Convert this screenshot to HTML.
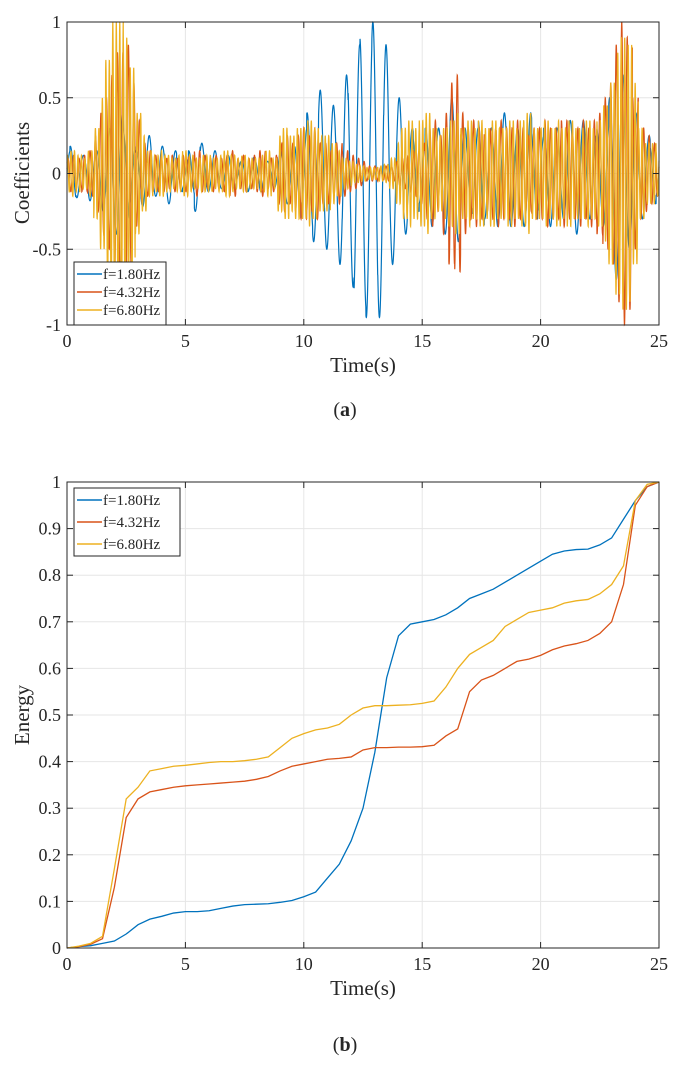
<!DOCTYPE html>
<html><head><meta charset="utf-8"><style>
body{margin:0;background:#fff}
svg{display:block}
text{font-family:"Liberation Serif",serif;fill:#262626}
</style></head><body>
<svg id="fig" width="689" height="1068" viewBox="0 0 689 1068" xmlns="http://www.w3.org/2000/svg">
<g id="top"></g>
<g id="bot"></g>
<text x="345" y="416" text-anchor="middle" font-size="20">(<tspan font-weight="bold">a</tspan>)</text>
<text x="345" y="1051" text-anchor="middle" font-size="20">(<tspan font-weight="bold">b</tspan>)</text>
</svg>
<script>
const seriesNames=["f=1.80Hz","f=4.32Hz","f=6.80Hz"];
const seriesFreq=[1.8,4.32,6.8];
const colors=["#0072BD","#D95319","#EDB120"];
const xTicks=[0,5,10,15,20,25];
const topYTicks=[-1,-0.5,0,0.5,1];
const topYLabels=["-1","-0.5","0","0.5","1"];
const botYTicks=[0,0.1,0.2,0.3,0.4,0.5,0.6,0.7,0.8,0.9,1];
const botYLabels=["0","0.1","0.2","0.3","0.4","0.5","0.6","0.7","0.8","0.9","1"];
// envelope amplitudes, step 0.25 s
const ampBlue=[.15,.18,.16,.12,.18,.15,.25,.3,.4,.42,.3,.2,.15,.22,.25,.15,.18,.2,.15,.12,.1,.15,.25,.2,.12,.15,.1,.12,.1,.08,.1,.12,.1,.12,.08,.1,.15,.2,.15,.2,.3,.4,.45,.55,.5,.45,.6,.65,.75,.85,.9,.95,1.0,.95,.85,.6,.5,.4,.3,.25,.2,.3,.35,.3,.4,.5,.45,.3,.25,.3,.35,.3,.3,.35,.4,.35,.3,.35,.4,.3,.25,.3,.35,.3,.3,.35,.4,.35,.3,.25,.3,.35,.5,.7,.65,.5,.4,.3,.25,.2,.15];
const ampOrange=[.1,.12,.1,.12,.15,.25,.4,.5,.65,.8,.85,.6,.35,.2,.15,.12,.12,.1,.12,.1,.12,.1,.15,.12,.1,.12,.1,.12,.15,.1,.12,.1,.12,.15,.1,.12,.2,.25,.2,.25,.3,.25,.3,.2,.2,.15,.2,.15,.12,.1,.08,.05,.05,.04,.05,.05,.08,.1,.12,.15,.2,.3,.35,.25,.4,.6,.65,.4,.3,.35,.3,.25,.3,.35,.3,.3,.35,.3,.25,.3,.3,.35,.3,.3,.35,.3,.3,.35,.3,.35,.4,.5,.6,.85,1.0,.9,.5,.3,.25,.2,.15];
const ampYellow=[.12,.15,.12,.1,.15,.3,.5,.75,1.0,1.0,.9,.7,.4,.25,.15,.12,.15,.12,.1,.12,.15,.12,.1,.12,.12,.1,.12,.15,.12,.1,.12,.1,.1,.12,.15,.1,.25,.3,.25,.3,.3,.35,.3,.25,.25,.2,.15,.1,.08,.06,.05,.04,.04,.05,.06,.1,.2,.3,.35,.3,.35,.4,.3,.25,.3,.35,.4,.3,.35,.3,.35,.3,.35,.3,.3,.35,.3,.35,.4,.3,.3,.35,.3,.35,.3,.35,.3,.3,.35,.3,.35,.45,.6,.8,.9,.85,.6,.3,.2,.2,.15];
// energy, step 0.5 s
const energyBlue=[0,.003,.005,.01,.015,.03,.05,.062,.068,.075,.078,.078,.08,.085,.09,.093,.094,.095,.098,.102,.11,.12,.15,.18,.23,.3,.42,.58,.67,.695,.70,.705,.715,.73,.75,.76,.77,.785,.80,.815,.83,.845,.852,.855,.856,.865,.88,.92,.96,.99,1];
const energyOrange=[0,.003,.008,.02,.13,.28,.32,.335,.34,.345,.348,.35,.352,.354,.356,.358,.362,.368,.38,.39,.395,.40,.405,.407,.41,.425,.43,.43,.431,.431,.432,.435,.455,.47,.55,.575,.585,.60,.615,.62,.628,.64,.648,.653,.66,.675,.70,.78,.95,.99,1];
const energyYellow=[0,.004,.01,.025,.17,.32,.345,.38,.385,.39,.392,.395,.398,.40,.40,.402,.405,.41,.43,.45,.46,.468,.472,.48,.50,.515,.52,.52,.521,.522,.525,.53,.56,.60,.63,.645,.66,.69,.705,.72,.725,.73,.74,.745,.748,.76,.78,.82,.96,.995,1];

const NS="http://www.w3.org/2000/svg";
function mk(tag,attrs,parent){const e=document.createElementNS(NS,tag);for(const k in attrs)e.setAttribute(k,attrs[k]);parent.appendChild(e);return e;}
const X0=67,X1=659;
const xs=t=>X0+(t/25)*(X1-X0);

function axes(g,top,bottom,yMin,yMax,yTicks,yLabels,ylab,legendBox){
  const ys=v=>bottom-(v-yMin)/(yMax-yMin)*(bottom-top);
  xTicks.forEach(t=>{
    const l=mk('line',{x1:xs(t),x2:xs(t),y1:top,y2:bottom,stroke:'#e6e6e6','stroke-width':1},g);
    
    
  });
  yTicks.forEach(v=>{
    const l=mk('line',{x1:X0,x2:X1,y1:ys(v),y2:ys(v),stroke:'#e6e6e6','stroke-width':1},g);
    
    
  });
  return ys;
}
function frame(g,top,bottom,yTicks,yLabels,ys,ylab,ylabY){
  const r=mk('rect',{x:X0,y:top,width:X1-X0,height:bottom-top,fill:'none',stroke:'#262626','stroke-width':1},g);
  
  
  xTicks.forEach(t=>{
    mk('line',{x1:xs(t),x2:xs(t),y1:bottom,y2:bottom-6,stroke:'#262626'},g);
    mk('line',{x1:xs(t),x2:xs(t),y1:top,y2:top+6,stroke:'#262626'},g);
    const tx=mk('text',{x:xs(t),y:bottom+22,'text-anchor':'middle','font-size':18},g);
    tx.textContent=t;
    
    
  });
  yTicks.forEach((v,i)=>{
    mk('line',{x1:X0,x2:X0+6,y1:ys(v),y2:ys(v),stroke:'#262626'},g);
    mk('line',{x1:X1,x2:X1-6,y1:ys(v),y2:ys(v),stroke:'#262626'},g);
    const tx=mk('text',{x:X0-6,y:ys(v)+6,'text-anchor':'end','font-size':18},g);
    tx.textContent=yLabels[i];
    
    
  });
  const xl=mk('text',{x:(X0+X1)/2,y:bottom+47,'text-anchor':'middle','font-size':21},g);
  xl.textContent='Time(s)';
  
  
  const yl=mk('text',{x:0,y:0,'text-anchor':'middle','font-size':21,transform:`translate(29,${ylabY}) rotate(-90)`},g);
  yl.textContent=ylab;
  
  
}
function legend(g,x,y,w,h,rowY){
  const r=mk('rect',{x:x,y:y,width:w,height:h,fill:'#fff',stroke:'#262626','stroke-width':1},g);
  
  
  seriesNames.forEach((n,i)=>{
    const yy=y+rowY[i];
    const l=mk('line',{x1:x+3,x2:x+28,y1:yy,y2:yy,stroke:colors[i],'stroke-width':1.5},g);
    
    
    const t=mk('text',{x:x+29,y:yy+5,'font-size':15},g);
    t.textContent=n;
    
    
  });
}

// TOP chart
(function(){
  const g=document.getElementById('top');
  const top=22,bottom=325;
  const ys=axes(g,top,bottom,-1,1,topYTicks);
  const amps=[ampBlue,ampOrange,ampYellow];
  amps.forEach((amp,si)=>{
    const f=seriesFreq[si];let d='';
    for(let t=0;t<=25.0001;t+=0.005){
      const a=amp[Math.min(amp.length-1,Math.round(t*4))];
      let v=a*Math.sin(2*Math.PI*f*t+0.3*si);
      v=Math.max(-1,Math.min(1,v));
      d+=(d?'L':'M')+xs(t).toFixed(2)+','+ys(v).toFixed(2);
    }
    const p=mk('path',{d:d,fill:'none',stroke:colors[si],'stroke-width':1.2},g);
    
    
  });
  frame(g,top,bottom,topYTicks,topYLabels,ys,'Coefficients',173);
  legend(g,74,262,92,63,[12,30,48]);
})();

// BOTTOM chart
(function(){
  const g=document.getElementById('bot');
  const top=482,bottom=948;
  const ys=axes(g,top,bottom,0,1,botYTicks);
  [energyBlue,energyOrange,energyYellow].forEach((arr,si)=>{
    let d='';
    arr.forEach((v,i)=>{d+=(i?'L':'M')+xs(i*0.5).toFixed(2)+','+ys(v).toFixed(2);});
    const p=mk('path',{d:d,fill:'none',stroke:colors[si],'stroke-width':1.3},g);
    
    
  });
  frame(g,top,bottom,botYTicks,botYLabels,ys,'Energy',715);
  legend(g,74,488,106,68,[12,34,56]);
})();
</script>
</body></html>
